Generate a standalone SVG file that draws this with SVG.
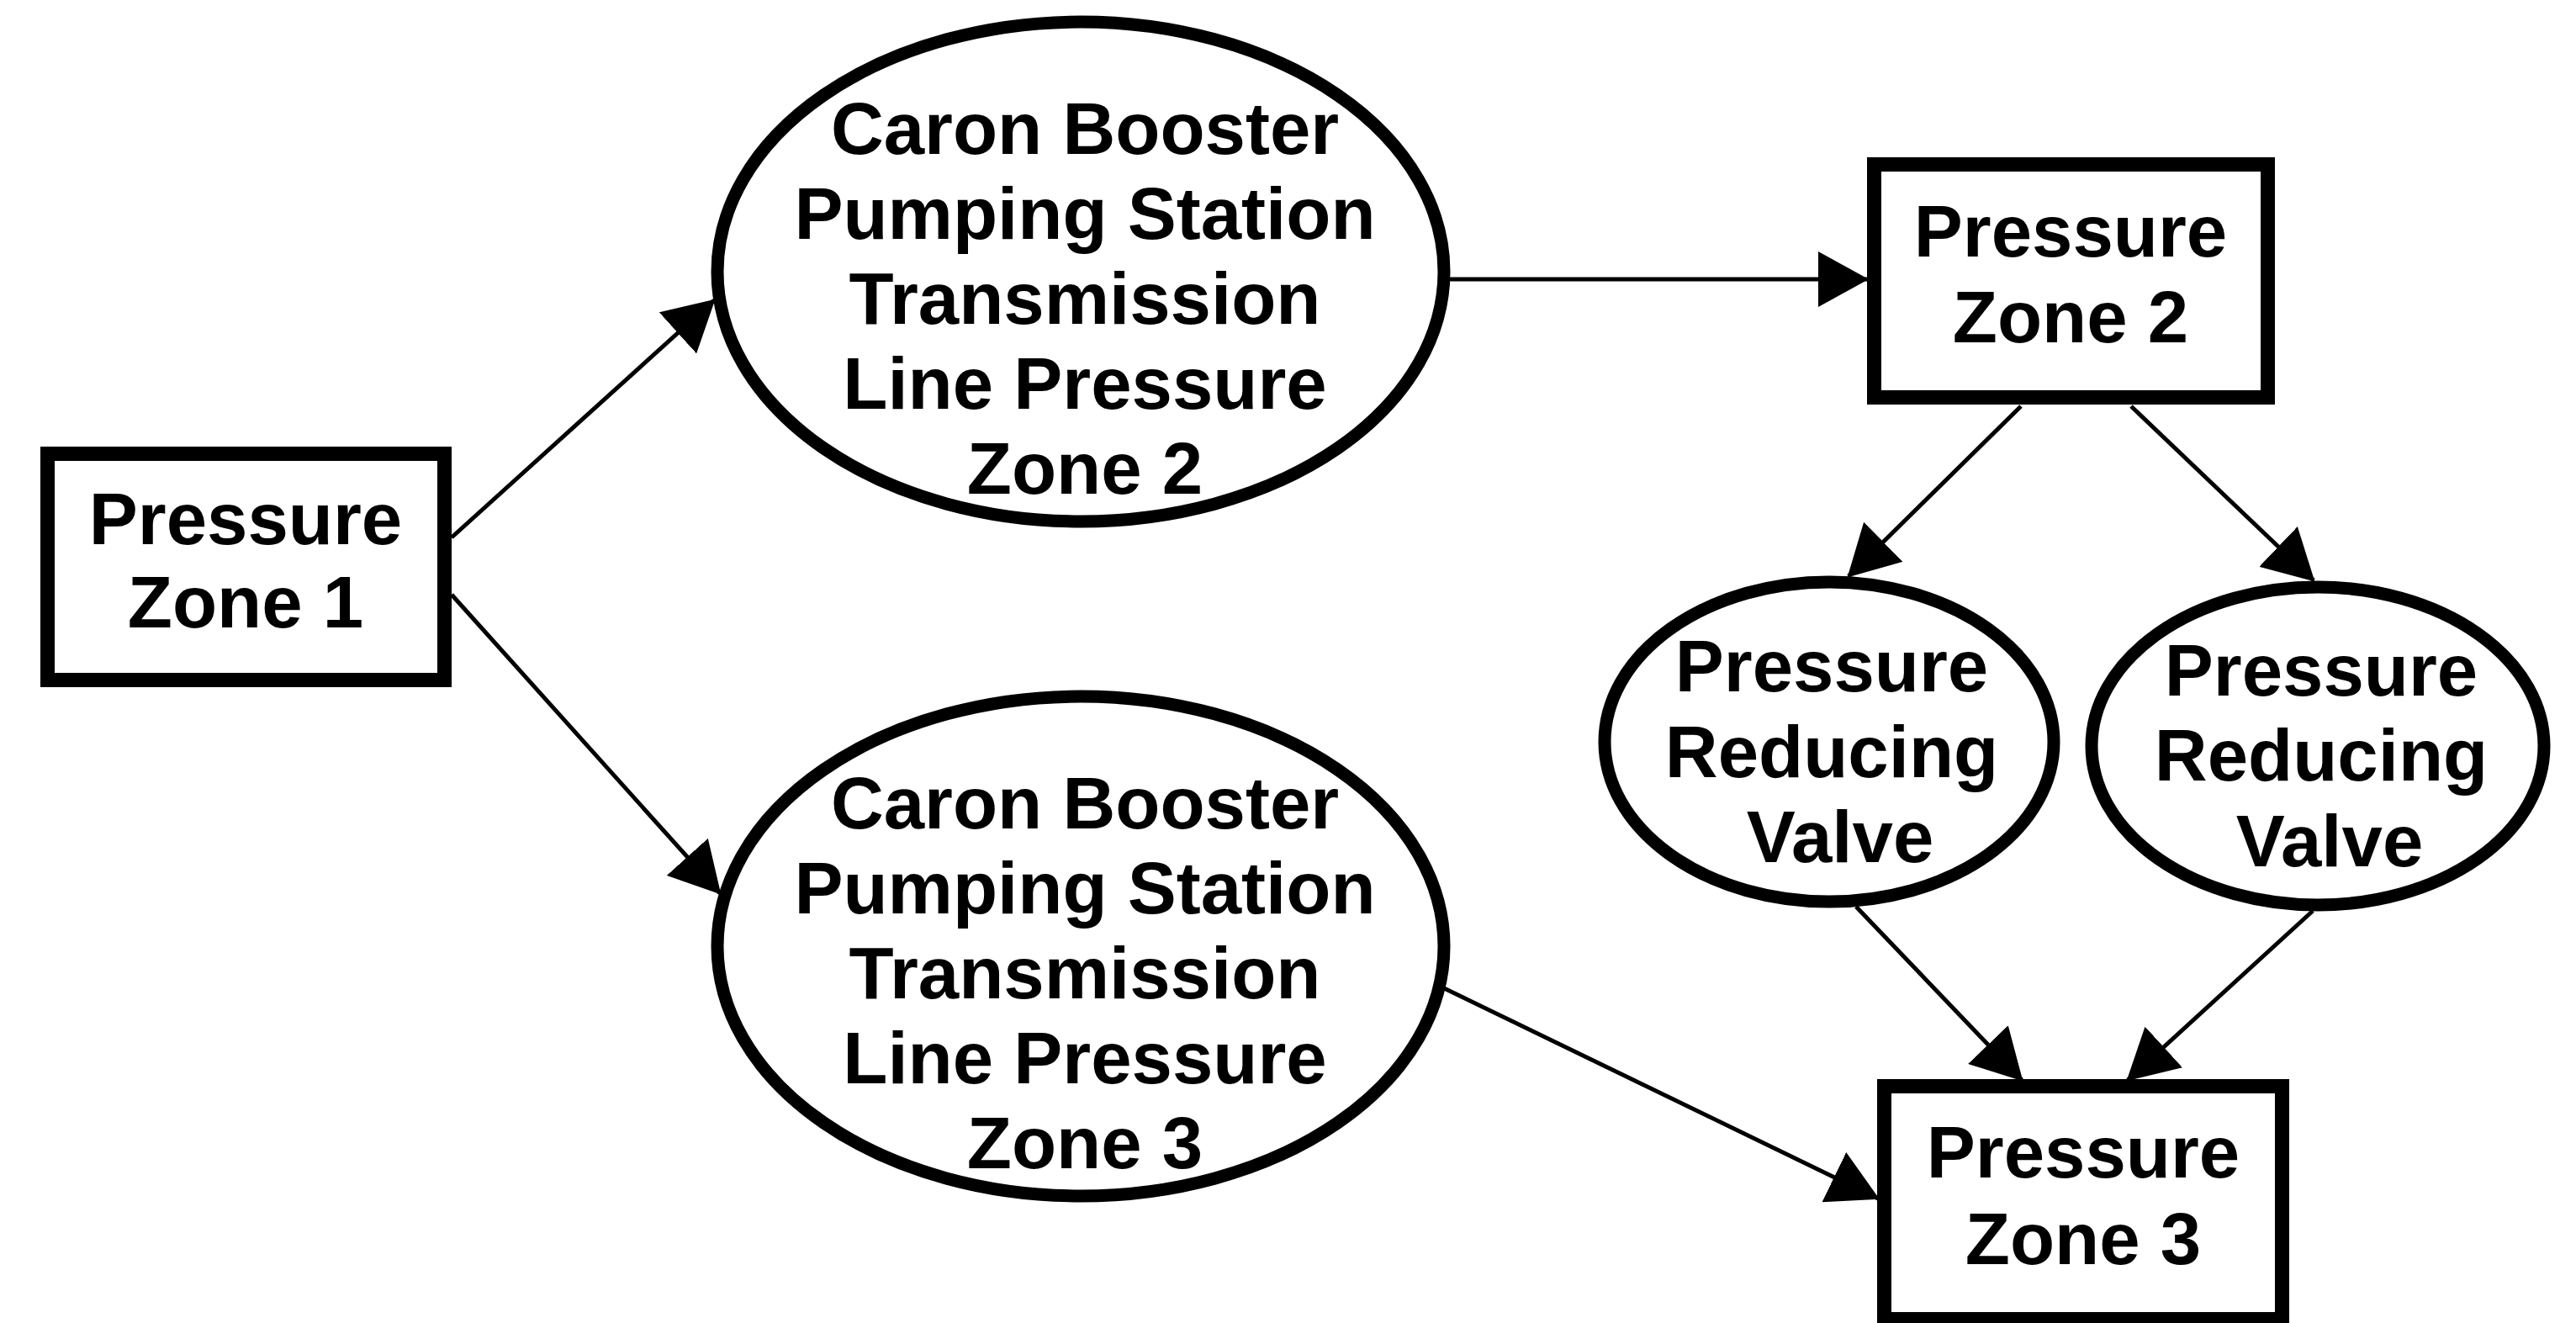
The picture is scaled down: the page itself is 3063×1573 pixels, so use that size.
<svg xmlns="http://www.w3.org/2000/svg" width="3063" height="1573" viewBox="0 0 3063 1573">
<style>
.box{fill:#fff;stroke:#000;stroke-width:17}
.ell{fill:#fff;stroke:#000;stroke-width:15}
.lbl{font-family:"Liberation Sans",Arial,sans-serif;font-weight:bold;font-size:87px;fill:#000;text-anchor:middle}
.con{stroke:#000;stroke-width:5;fill:none;marker-end:url(#arr)}
</style>
<defs>
<marker id="arr" viewBox="0 0 60 66" refX="58" refY="33" markerWidth="60" markerHeight="66" markerUnits="userSpaceOnUse" orient="auto">
<path d="M0,0 L60,33 L0,66 z" fill="#000"/>
</marker>
</defs>
<rect width="3063" height="1573" fill="#fff"/>
<g id="connectors">
<line class="con" x1="537" y1="639" x2="849" y2="357"/>
<line class="con" x1="537" y1="707" x2="856" y2="1062"/>
<line class="con" x1="1724" y1="332" x2="2220" y2="332"/>
<line class="con" x1="2403" y1="483" x2="2198" y2="685"/>
<line class="con" x1="2534" y1="483" x2="2751" y2="690"/>
<line class="con" x1="2207" y1="1078" x2="2404" y2="1284"/>
<line class="con" x1="2750" y1="1083" x2="2530" y2="1284"/>
<line class="con" x1="1711" y1="1172" x2="2233" y2="1425"/>
</g>
<g id="pz1">
<rect class="box" x="56.5" y="539.5" width="472" height="269"/>
<text class="lbl" x="292" y="647">Pressure</text>
<text class="lbl" x="292" y="746">Zone 1</text>
</g>
<g id="booster2">
<ellipse class="ell" cx="1285" cy="323" rx="432" ry="297"/>
<text class="lbl" x="1290" y="183">Caron Booster</text>
<text class="lbl" x="1290" y="284">Pumping Station</text>
<text class="lbl" x="1290" y="385">Transmission</text>
<text class="lbl" x="1290" y="486">Line Pressure</text>
<text class="lbl" x="1290" y="587">Zone 2</text>
</g>
<g id="booster3">
<ellipse class="ell" cx="1285" cy="1125" rx="432" ry="297"/>
<text class="lbl" x="1290" y="985">Caron Booster</text>
<text class="lbl" x="1290" y="1086">Pumping Station</text>
<text class="lbl" x="1290" y="1187">Transmission</text>
<text class="lbl" x="1290" y="1288">Line Pressure</text>
<text class="lbl" x="1290" y="1389">Zone 3</text>
</g>
<g id="pz2">
<rect class="box" x="2228.5" y="195.5" width="468" height="277"/>
<text class="lbl" x="2462" y="305">Pressure</text>
<text class="lbl" x="2462" y="407">Zone 2</text>
</g>
<g id="prv1">
<ellipse class="ell" cx="2175" cy="882" rx="267" ry="190"/>
<text class="lbl" x="2178" y="822">Pressure</text>
<text class="lbl" x="2178" y="924">Reducing</text>
<text class="lbl" x="2188" y="1025">Valve</text>
</g>
<g id="prv2">
<ellipse class="ell" cx="2756" cy="887" rx="269" ry="189"/>
<text class="lbl" x="2760" y="827">Pressure</text>
<text class="lbl" x="2760" y="928">Reducing</text>
<text class="lbl" x="2770" y="1030">Valve</text>
</g>
<g id="pz3">
<rect class="box" x="2240.5" y="1291.5" width="473" height="277"/>
<text class="lbl" x="2477" y="1400">Pressure</text>
<text class="lbl" x="2477" y="1503">Zone 3</text>
</g>
</svg>
